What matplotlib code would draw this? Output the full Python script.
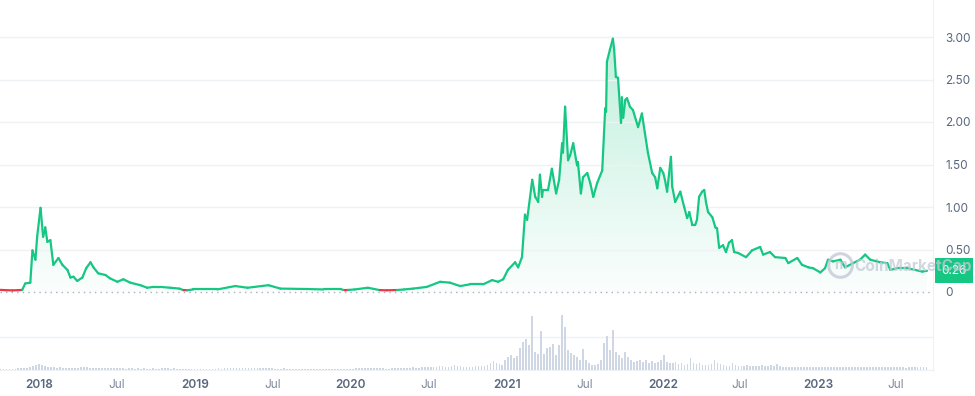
import numpy as np
import matplotlib
matplotlib.use("Agg")
import matplotlib.pyplot as plt
import matplotlib.dates as mdates
from matplotlib.collections import LineCollection
from matplotlib.patches import Polygon
from matplotlib.transforms import blended_transform_factory

plt.rcParams['font.family'] = ['Inter', 'DejaVu Sans']

# price in USD
price_dates = [
    "2017-10-02", "2017-10-16", "2017-10-30", "2017-11-13", "2017-11-22", "2017-11-29",
    "2017-12-11", "2017-12-16", "2017-12-23", "2017-12-27", "2018-01-04", "2018-01-10",
    "2018-01-15", "2018-01-20", "2018-01-27", "2018-02-03", "2018-02-15", "2018-02-24",
    "2018-03-08", "2018-03-15", "2018-03-22", "2018-03-31", "2018-04-12", "2018-04-21",
    "2018-05-01", "2018-05-08", "2018-05-19", "2018-06-05", "2018-06-16", "2018-07-03",
    "2018-07-17", "2018-08-02", "2018-08-26", "2018-09-11", "2018-09-25", "2018-10-12",
    "2018-11-04", "2018-11-25", "2018-12-05", "2018-12-14", "2018-12-28", "2019-02-22",
    "2019-04-05", "2019-05-04", "2019-06-22", "2019-07-20", "2019-09-21", "2019-10-29",
    "2019-12-10", "2019-12-18", "2019-12-26", "2020-01-10", "2020-02-10", "2020-03-09",
    "2020-03-25", "2020-04-18", "2020-05-05", "2020-05-26", "2020-06-27", "2020-07-28",
    "2020-08-20", "2020-09-13", "2020-10-06", "2020-11-06", "2020-11-27", "2020-12-11",
    "2020-12-23", "2021-01-03", "2021-01-20", "2021-01-27", "2021-02-05", "2021-02-12",
    "2021-02-17", "2021-02-24", "2021-03-01", "2021-03-08", "2021-03-15", "2021-03-19",
    "2021-03-24", "2021-03-26", "2021-04-07", "2021-04-16", "2021-04-26", "2021-05-03",
    "2021-05-10", "2021-05-12", "2021-05-17", "2021-05-24", "2021-05-29", "2021-06-05",
    "2021-06-14", "2021-06-16", "2021-06-23", "2021-06-28", "2021-07-08", "2021-07-15",
    "2021-07-22", "2021-07-31", "2021-08-12", "2021-08-19", "2021-08-21", "2021-08-23",
    "2021-08-30", "2021-09-06", "2021-09-09", "2021-09-13", "2021-09-18", "2021-09-25",
    "2021-09-27", "2021-09-30", "2021-10-05", "2021-10-09", "2021-10-16", "2021-10-23",
    "2021-11-04", "2021-11-13", "2021-11-20", "2021-11-27", "2021-12-07", "2021-12-14",
    "2021-12-19", "2021-12-26", "2022-01-02", "2022-01-06", "2022-01-11", "2022-01-20",
    "2022-01-23", "2022-01-30", "2022-02-11", "2022-02-20", "2022-02-27", "2022-03-04",
    "2022-03-11", "2022-03-18", "2022-03-22", "2022-03-27", "2022-04-03", "2022-04-08",
    "2022-04-12", "2022-04-17", "2022-04-27", "2022-05-04", "2022-05-08", "2022-05-13",
    "2022-05-22", "2022-05-29", "2022-06-05", "2022-06-12", "2022-06-17", "2022-06-26",
    "2022-07-15", "2022-07-29", "2022-08-17", "2022-08-24", "2022-09-09", "2022-09-21",
    "2022-10-15", "2022-10-22", "2022-11-12", "2022-11-23", "2022-12-08", "2022-12-19",
    "2023-01-05", "2023-01-16", "2023-01-23", "2023-02-04", "2023-02-21", "2023-03-04",
    "2023-03-23", "2023-04-08", "2023-04-20", "2023-05-02", "2023-05-25", "2023-06-11",
    "2023-06-18", "2023-07-04", "2023-07-28", "2023-08-15", "2023-09-01", "2023-09-12",
]
price_values = [
    0.025, 0.021, 0.019, 0.022, 0.024, 0.10,
    0.11, 0.49, 0.38, 0.65, 0.99, 0.65,
    0.76, 0.59, 0.61, 0.32, 0.40, 0.32,
    0.26, 0.17, 0.18, 0.13, 0.17, 0.28,
    0.35, 0.29, 0.22, 0.20, 0.16, 0.12,
    0.15, 0.11, 0.08, 0.05, 0.06, 0.06,
    0.05, 0.04, 0.022, 0.021, 0.03, 0.03,
    0.07, 0.05, 0.08, 0.04, 0.035, 0.03,
    0.03, 0.021, 0.024, 0.03, 0.05, 0.022,
    0.020, 0.023, 0.03, 0.04, 0.06, 0.12,
    0.11, 0.07, 0.09, 0.09, 0.14, 0.12,
    0.15, 0.26, 0.35, 0.29, 0.41, 0.91,
    0.85, 1.12, 1.32, 1.12, 1.06, 1.38,
    1.12, 1.20, 1.20, 1.45, 1.16, 1.32,
    1.75, 1.64, 2.18, 1.55, 1.61, 1.75,
    1.49, 1.53, 1.16, 1.35, 1.40, 1.28,
    1.12, 1.28, 1.43, 2.16, 2.12, 2.71,
    2.85, 2.98, 2.85, 2.53, 2.52, 1.99,
    2.29, 2.05, 2.26, 2.28, 2.18, 2.14,
    1.94, 2.10, 1.87, 1.64, 1.40, 1.35,
    1.22, 1.46, 1.40, 1.32, 1.18, 1.59,
    1.24, 1.06, 1.18, 1.00, 0.87, 0.94,
    0.79, 0.79, 0.85, 1.12, 1.18, 1.20,
    1.06, 0.94, 0.88, 0.76, 0.75, 0.52,
    0.55, 0.47, 0.58, 0.61, 0.47, 0.46,
    0.41, 0.49, 0.53, 0.44, 0.47, 0.41,
    0.40, 0.34, 0.40, 0.32, 0.29, 0.28,
    0.23, 0.28, 0.38, 0.36, 0.38, 0.29,
    0.34, 0.38, 0.44, 0.38, 0.35, 0.34,
    0.26, 0.28, 0.28, 0.26, 0.24, 0.25,
]
last_price_label = "0.26"

# weekly volume from 2017-10-02, relative units (1 = the volume gridline)
volume_start = "2017-10-02"
volume = [
    0.03, 0.03, 0.04, 0.04, 0.04, 0.04, 0.05, 0.05, 0.06, 0.07, 0.10, 0.12, 0.14,
    0.18, 0.16, 0.12, 0.10, 0.09, 0.08, 0.07, 0.08, 0.07, 0.06, 0.06, 0.05, 0.06,
    0.07, 0.08, 0.09, 0.08, 0.07, 0.06, 0.06, 0.05, 0.05, 0.06, 0.05, 0.05, 0.05,
    0.05, 0.05, 0.05, 0.04, 0.05, 0.05, 0.04, 0.05, 0.04, 0.05, 0.04, 0.04, 0.05,
    0.04, 0.04, 0.05, 0.05, 0.05, 0.04, 0.05, 0.04, 0.04, 0.04, 0.04, 0.04, 0.04,
    0.04, 0.04, 0.04, 0.04, 0.04, 0.04, 0.04, 0.04, 0.05, 0.04, 0.05, 0.05, 0.05,
    0.05, 0.06, 0.05, 0.06, 0.06, 0.07, 0.06, 0.06, 0.05, 0.06, 0.05, 0.05, 0.05,
    0.05, 0.04, 0.04, 0.04, 0.05, 0.04, 0.04, 0.04, 0.04, 0.04, 0.04, 0.04, 0.04,
    0.04, 0.04, 0.04, 0.04, 0.04, 0.04, 0.04, 0.04, 0.04, 0.04, 0.04, 0.04, 0.04,
    0.04, 0.04, 0.05, 0.05, 0.05, 0.06, 0.05, 0.05, 0.05, 0.06, 0.05, 0.05, 0.04,
    0.04, 0.05, 0.05, 0.05, 0.06, 0.06, 0.07, 0.07, 0.08, 0.07, 0.07, 0.08, 0.08,
    0.09, 0.08, 0.10, 0.09, 0.11, 0.12, 0.09, 0.10, 0.12, 0.14, 0.12, 0.12, 0.10,
    0.10, 0.10, 0.09, 0.11, 0.12, 0.11, 0.13, 0.14, 0.20, 0.28, 0.22, 0.18, 0.16,
    0.30, 0.40, 0.45, 0.35, 0.42, 0.66, 0.84, 0.93, 0.76, 1.64, 0.55, 0.50, 1.18,
    0.48, 0.66, 0.70, 0.79, 0.45, 0.76, 1.67, 1.31, 0.60, 0.52, 0.45, 0.38, 0.30,
    0.63, 0.30, 0.20, 0.15, 0.14, 0.18, 0.30, 0.83, 1.03, 0.60, 1.21, 0.55, 0.45,
    0.35, 0.55, 0.40, 0.30, 0.25, 0.28, 0.30, 0.25, 0.30, 0.22, 0.28, 0.22, 0.25,
    0.30, 0.45, 0.25, 0.22, 0.20, 0.24, 0.18, 0.20, 0.16, 0.18, 0.35, 0.22, 0.18,
    0.20, 0.16, 0.14, 0.16, 0.18, 0.30, 0.22, 0.18, 0.15, 0.13, 0.12, 0.22, 0.14,
    0.12, 0.13, 0.12, 0.14, 0.12, 0.11, 0.13, 0.12, 0.15, 0.11, 0.12, 0.14, 0.13,
    0.18, 0.12, 0.10, 0.09, 0.10, 0.09, 0.10, 0.09, 0.09, 0.08, 0.08, 0.09, 0.08,
    0.08, 0.09, 0.08, 0.10, 0.09, 0.08, 0.09, 0.08, 0.09, 0.08, 0.09, 0.08, 0.09,
    0.08, 0.09, 0.08, 0.09, 0.08, 0.08, 0.08, 0.09, 0.08, 0.09, 0.08, 0.08, 0.08,
    0.09, 0.08, 0.08, 0.08, 0.07, 0.08, 0.08, 0.08, 0.08, 0.08, 0.08, 0.08,
]

x_ticks = ["2018-01-01", "2018-07-01", "2019-01-01", "2019-07-01", "2020-01-01", "2020-07-01",
           "2021-01-01", "2021-07-01", "2022-01-01", "2022-07-01", "2023-01-01", "2023-07-01"]
x_labels = ["2018", "Jul", "2019", "Jul", "2020", "Jul", "2021", "Jul", "2022", "Jul", "2023", "Jul"]
y_ticks = [0, 0.5, 1.0, 1.5, 2.0, 2.5, 3.0]
y_labels = ["0", "0.50", "1.00", "1.50", "2.00", "2.50", "3.00"]

GREEN = "#16c784"
RED = "#ea3943"
GRID = "#eff2f5"
TEXT = "#58667e"

x = mdates.date2num(np.array(price_dates, dtype="datetime64[D]"))
y = np.array(price_values)
vx = mdates.date2num(np.datetime64(volume_start) + 7 * np.arange(len(volume)))

fig = plt.figure(figsize=(9.75, 3.96), dpi=100)
ax = fig.add_axes([0, 96 / 396, 933 / 975, 300 / 396])
axv = fig.add_axes([0, 25 / 396, 933 / 975, 71 / 396])

xmin = mdates.date2num(np.datetime64("2017-10-01"))
xmax = mdates.date2num(np.datetime64("2023-09-26"))

# gradient fill under the price line
poly = Polygon(np.column_stack([np.r_[x[0], x, x[-1]], np.r_[0, y, 0]]),
               closed=True, facecolor="none", edgecolor="none", transform=ax.transData)
ax.add_patch(poly)
gy = np.linspace(0, 3.1, 256)
grad = np.zeros((256, 2, 4))
grad[..., 0] = 22 / 255
grad[..., 1] = 199 / 255
grad[..., 2] = 132 / 255
grad[..., 3] = (0.02 + 0.085 * gy)[:, None]
im = ax.imshow(grad, extent=[x[0], x[-1], 0, 3.1], origin="lower", aspect="auto", zorder=1)
im.set_clip_path(poly)

# price line, red where it is below the first price
base = y[0]
segs = np.stack([np.column_stack([x[:-1], y[:-1]]), np.column_stack([x[1:], y[1:]])], axis=1)
cols = [RED if (a + b) / 2 < base else GREEN for a, b in zip(y[:-1], y[1:])]
lc = LineCollection(segs, colors=cols, linewidths=1.6, capstyle="round", joinstyle="round", zorder=3)
ax.add_collection(lc)

ax.axhline(0, color="#a6b0c3", lw=1, ls=(0, (1, 3)), zorder=2)

ax.set_xlim(xmin, xmax)
ax.set_ylim(-8 / 85, 292 / 85)
ax.set_yticks(y_ticks)
ax.set_yticklabels(y_labels)
ax.yaxis.tick_right()
ax.tick_params(axis="y", length=0, pad=9, labelsize=8.5, labelcolor=TEXT)
ax.tick_params(axis="x", bottom=False, labelbottom=False)
ax.grid(axis="y", color=GRID, lw=1)
ax.get_ygridlines()[0].set_visible(False)
for s in ["top", "left", "bottom"]:
    ax.spines[s].set_visible(False)
ax.spines["right"].set_color(GRID)

# price tag
tr = blended_transform_factory(ax.transAxes, ax.transData)
ax.annotate(last_price_label, xy=(1, y[-1]), xycoords=tr, xytext=(6, 0), textcoords="offset points",
            ha="left", va="center", color="white", fontsize=8.5, annotation_clip=False,
            bbox=dict(boxstyle="square,pad=0.55", fc=GREEN, ec="none"), zorder=5)

# watermark
fig.text(0.8615, 0.3308, "m", ha="center", va="center", fontsize=10, color="#c3cad8",
         fontweight="bold", alpha=0.8, zorder=10)
fig.add_artist(plt.Line2D([0.8615], [0.3308], marker="o", ms=17, mfc="none", mec="#c3cad8",
                          mew=2.2, alpha=0.8, transform=fig.transFigure, zorder=10))
fig.text(0.876, 0.328, "CoinMarketCap", ha="left", va="center", fontsize=11, color="#c3cad8",
         fontweight="bold", alpha=0.75, zorder=10)

# volume bars
axv.bar(vx, volume, width=4, color="#cfd6e4", zorder=2)
axv.set_xlim(xmin, xmax)
axv.set_ylim(-1 / 33, 70 / 33)
axv.set_yticks([0, 1])
axv.tick_params(axis="y", left=False, labelleft=False)
axv.grid(axis="y", color=GRID, lw=1, zorder=0)
for s in ["top", "left", "bottom"]:
    axv.spines[s].set_visible(False)
axv.spines["right"].set_color(GRID)

axv.set_xticks(mdates.date2num(np.array(x_ticks, dtype="datetime64[D]")))
axv.set_xticklabels(x_labels)
axv.tick_params(axis="x", length=0, pad=6, labelsize=8.5)
for t in axv.get_xticklabels():
    if t.get_text() == "Jul":
        t.set_color("#808a9d")
    else:
        t.set_color(TEXT)
        t.set_fontweight("semibold")

fig.savefig("out.png", dpi=100)
